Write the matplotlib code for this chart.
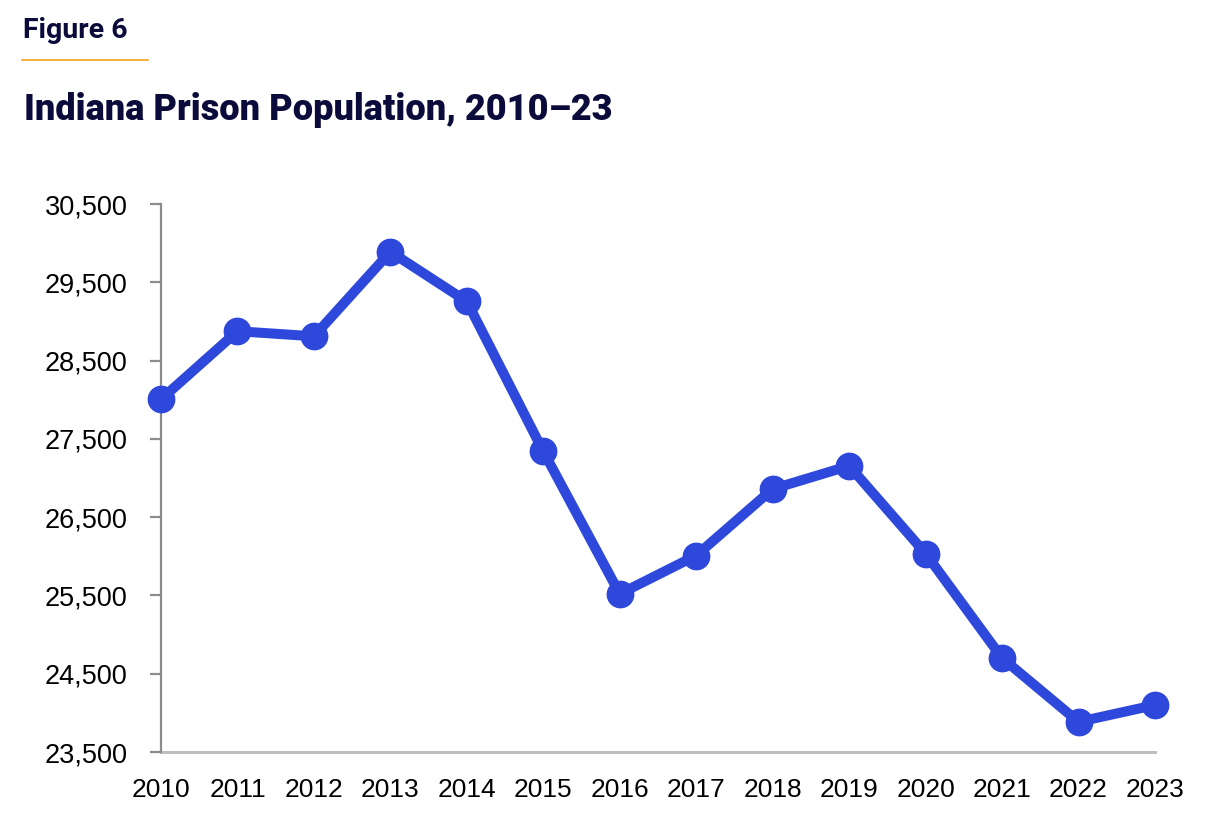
import matplotlib
matplotlib.use("Agg")
import matplotlib.pyplot as plt
from matplotlib.lines import Line2D
from matplotlib.ticker import FuncFormatter

years = list(range(2010, 2024))
population = [28005, 28875, 28810, 29890, 29255, 27340, 25520, 26010, 26860, 27155,
              26035, 24700, 23885, 24100]
y_ticks = [23500, 24500, 25500, 26500, 27500, 28500, 29500, 30500]

W, H = 1219, 839
fig = plt.figure(figsize=(W / 100, H / 100), dpi=100)
fig.patch.set_facecolor("white")

ax = fig.add_axes([161 / W, 1 - 752 / H, (1155 - 161) / W, (752 - 204) / H])
ax.plot(years, population, color="#2E48DC", lw=7.2, marker="o", ms=19,
        solid_joinstyle="round", clip_on=False, zorder=3)
ax.set_xlim(2010, 2023)
ax.set_ylim(23500, 30500)
ax.set_xticks(years)
ax.set_yticks(y_ticks)
ax.yaxis.set_major_formatter(FuncFormatter(lambda v, p: f"{int(v):,}"))

for s in ["top", "right"]:
    ax.spines[s].set_visible(False)
ax.spines["left"].set_color("#8C8C8C")
ax.spines["left"].set_linewidth(1.6)
ax.spines["bottom"].set_color("#BFBFBF")
ax.spines["bottom"].set_linewidth(2.2)
ax.spines["bottom"].set_zorder(1)

ax.tick_params(axis="y", length=8, width=1.6, color="#8C8C8C", pad=16,
               labelsize=19.5, labelcolor="#000000")
ax.tick_params(axis="x", length=0, pad=19, labelsize=19, labelcolor="#000000")
for lab in ax.get_xticklabels() + ax.get_yticklabels():
    lab.set_fontfamily("Liberation Sans")

navy = "#0B0B3B"
fig.text(23 / W, 1 - 31 / H, "Figure 6", fontsize=20.5, fontweight="bold",
         family="Roboto", color=navy, va="center", ha="left")
fig.add_artist(Line2D([22 / W, 148 / W], [1 - 60 / H, 1 - 60 / H],
                      color="#F5A21C", lw=1.2))
fig.text(24 / W, 1 - 110 / H, "Indiana Prison Population, 2010\u201323",
         fontsize=26, fontweight="heavy", family="Roboto", color=navy,
         va="center", ha="left")

fig.savefig("out.png", dpi=100)
